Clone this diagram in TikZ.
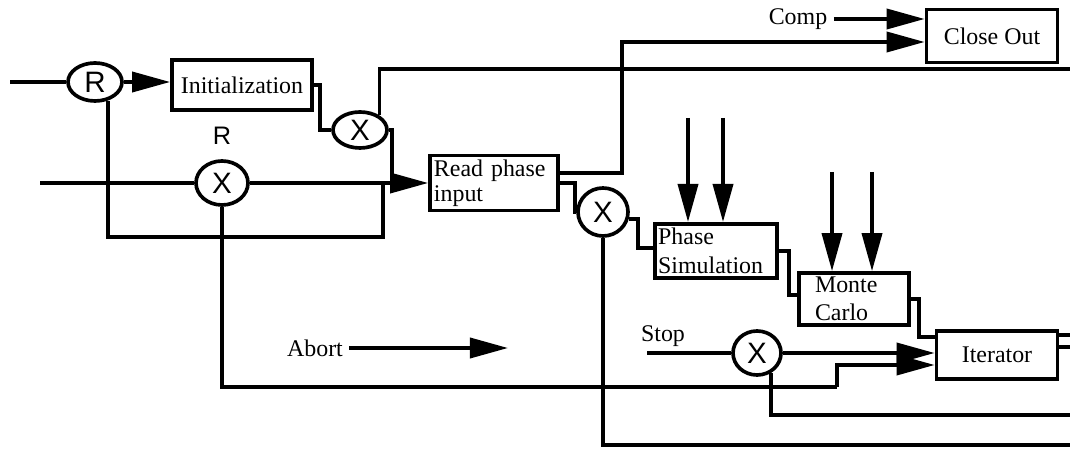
\documentclass[tikz,border=0pt]{standalone}
\usepackage{fontspec}
\setmainfont{Liberation Serif}
\newfontfamily\helv{Liberation Sans}
\usetikzlibrary{shapes.geometric, arrows.meta, positioning, calc}

\begin{document}
\begin{tikzpicture}[x=0.025cm, y=-0.025cm, line width=2.6pt,
    font=\fontsize{17}{18}\selectfont,
    blk/.style={draw, rectangle, inner sep=0.1cm},
    jn/.style={draw, ellipse, inner sep=0pt, font=\helv\fontsize{21}{21}\selectfont},
    arr/.style={-{Triangle[length=0.95cm, width=0.5cm]}}]
    \useasboundingbox (0,0) rectangle (1070,451);

    % junctions and blocks
    \node[jn, minimum width=1.35cm, minimum height=0.95cm] (rin) at (95,82) {R};
    \node[blk, minimum width=3.5cm, minimum height=1.25cm] (init) at (242,85) {Initialization};
    \node[jn, minimum width=1.35cm, minimum height=0.9cm] (xa) at (360,130) {X};
    \node[jn, minimum width=1.3cm, minimum height=1.1cm] (xb) at (222,183) {X};
    \node[font=\helv\fontsize{18}{18}\selectfont, above=2mm of xb] (rlab) {R};
    \node[blk, minimum width=3.2cm, minimum height=1.25cm, text width=3cm, align=left] (read) at (494,183) {Read phase\\input};
    \node[blk, minimum width=3.275cm, minimum height=1.325cm] (close) at (992,36) {Close Out};
    \node[jn, minimum width=1.25cm, minimum height=1.2cm] (xc) at (603,212) {X};
    \node[blk, minimum width=3.05cm, minimum height=1.3cm, inner xsep=0.08cm, text width=2.89cm, align=left, font=\fontsize{17}{21}\selectfont] (phase) at (716,251) {Phase\\Simulation};
    \node[blk, minimum width=2.75cm, minimum height=1.125cm, inner xsep=0.4cm, text width=1.95cm, align=left, font=\fontsize{17}{20}\selectfont] (monte) at (854,299) {Monte\\Carlo};
    \node[blk, minimum width=3.025cm, minimum height=1.2cm] (iter) at (997,355) {Iterator};
    \node[jn, minimum width=1.2cm, minimum height=1.1cm] (xd) at (757,353) {X};

    % labels
    \node (comp) at (798,19) {Comp};
    \node (stop) at (663,336) {Stop};
    \node (abort) at (315,348) {Abort};

    % free ends
    \coordinate (inR) at (10,82);
    \coordinate (inX) at (40,183);
    \coordinate (lpA) at (383,237);
    \coordinate (jA) at (392,183);
    \coordinate (topOut) at (1070,69);
    \coordinate (rdA) at (622,42);
    \coordinate (abA) at (837,387);
    \coordinate (abEnd) at (508,348);
    \coordinate (stopIn) at (647,353);
    \coordinate (outC) at (1070,415);
    \coordinate (outD) at (1070,445);
    \coordinate (outE1) at (1070,335);
    \coordinate (outE2) at (1070,347);

    % connections
    \draw (inR) -- (rin);
    \draw[arr] (rin.east) -- (rin.east -| init.west);
    \draw (init.east) -- ++(6,0) |- (xa.west);
    \draw (xa.37) |- (topOut);
    \draw (xa.east) -| (jA);
    \draw[arr] (xb) -- (read);
    \draw (rin.-55) |- (lpA) -- (lpA |- xb);
    \draw (inX) -- (xb);
    \draw (xb) |- (abA);
    \draw[arr] (abA) |- ($(iter.west)+(0,10)$);
    \draw[arr] (abort) -- (abEnd);
    \draw[arr] ($(read.east)+(0,-10)$) -| (rdA) -- (close.west |- rdA);
    \draw[arr] (comp) -- (comp -| close.west);
    \draw (read.east) -- ++(15,0) |- (xc);
    \draw (xc.-15) -- ++(9,0) |- ($(phase.west)+(0,-3)$);
    \draw (xc) |- (outD);
    \foreach \px [count=\i] in {688,723} {
        \coordinate (pp\i) at (\px,118);
        \draw[arr] (pp\i) -- (pp\i |- phase.north);
    }
    \foreach \px [count=\i] in {832,872} {
        \coordinate (pm\i) at (\px,172);
        \draw[arr] (pm\i) -- (pm\i |- monte.north);
    }
    \draw (phase.east) -- ++(10,0) |- ($(monte.west)+(0,-4)$);
    \draw (monte.east) -- ++(8,0) |- ($(iter.west)+(0,-18)$);
    \draw (stopIn) -- (xd);
    \draw[arr] (xd) -- (xd -| iter.west);
    \draw (xd.-55) |- (outC);
    \draw (iter.east |- outE1) -- (outE1);
    \draw (iter.east |- outE2) -- (outE2);
\end{tikzpicture}
\end{document}
